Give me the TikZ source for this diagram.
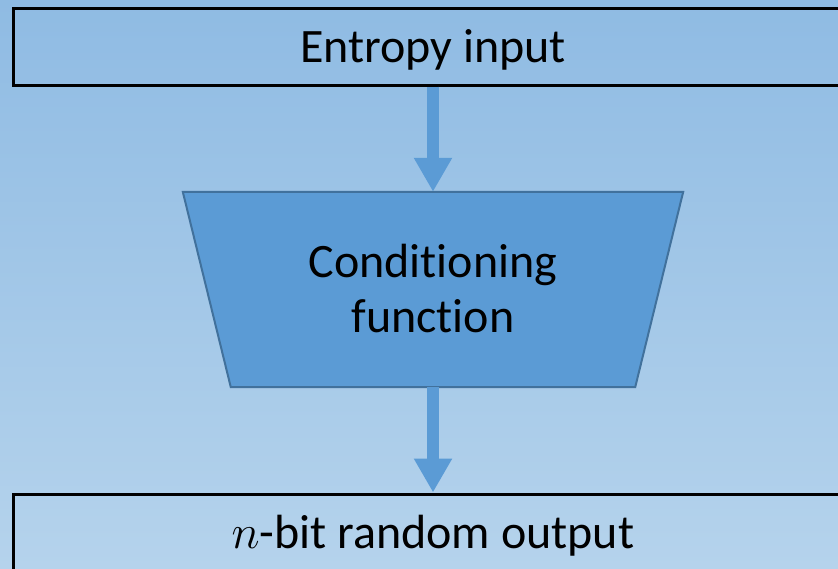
\RequirePackage{fix-cm}
\documentclass[tikz,border=0pt]{standalone}
\usepackage{fontspec}
\setmainfont[RawFeature={-liga;-clig;-calt}]{Carlito}
\usetikzlibrary{arrows.meta,calc}

\definecolor{bgtop}{HTML}{8FBBE3}
\definecolor{bgbottom}{HTML}{B5D3EC}
\definecolor{condfill}{HTML}{5B9BD5}
\definecolor{condline}{HTML}{41719C}

\tikzset{
  frame/.style={draw=black, line width=3pt, rectangle, inner sep=0pt},
  label/.style={anchor=base, inner sep=0pt, font=\fontsize{48}{58}\selectfont},
  flow/.style={draw=condfill, line width=12pt,
    -{Triangle[width=36pt,length=34pt]}},
}

\begin{document}
\begin{tikzpicture}[x=1pt,y=-1pt]
  % background with vertical gradient
  \shade[top color=bgtop, bottom color=bgbottom] (0,0) rectangle (838,568);
  \useasboundingbox (0,0) rectangle (838,568);

  % input and output bars (running off the right/bottom edge)
  \node[frame, minimum width=837pt, minimum height=77pt] (entropy) at (431.5,46.5) {};
  \node[frame, minimum width=837pt, minimum height=106pt] (output) at (431.5,547) {};

  % conditioning block: trapezoid, wide at the top
  \node[minimum width=404pt, minimum height=195pt, inner sep=0pt] (cond) at (433,289.5) {};
  \draw[fill=condfill, draw=condline, line width=2pt, line join=miter]
    ($(cond.north west)+(-48,0)$) -- ($(cond.north east)+(48,0)$)
    -- (cond.south east) -- (cond.south west) -- cycle;

  % texts
  \node[label] (entropytext) at (433,62.7) {Entropy input};
  \node[label] (condtext1) at (433,277.7) {Condi{}tioning};
  \node[label] (condtext2) at (433,332) {func{}tion};
  \node[label] (outputtext) at (433,548) {$n$-bit random output};

  % block arrows
  \draw[flow] (entropy.south -| cond.north) -- (cond.north);
  \draw[flow] (cond.south) -- (output.north -| cond.south);
\end{tikzpicture}
\end{document}
